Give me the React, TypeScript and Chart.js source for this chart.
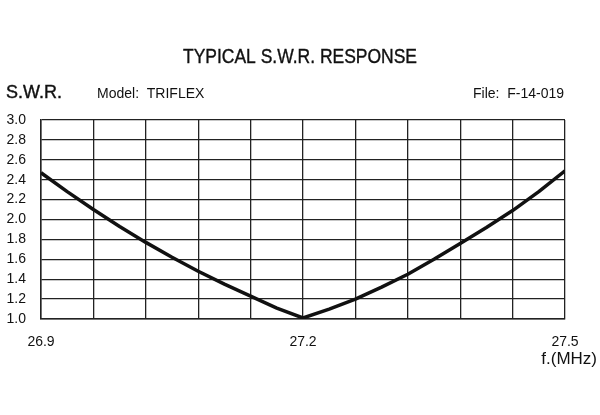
import React, { useEffect, useRef } from "react";
import { Chart, registerables } from "chart.js";

Chart.register(...registerables);

const frequencies = [
  26.9, 26.93, 26.96, 26.99, 27.02, 27.05, 27.08, 27.11, 27.14, 27.17, 27.2,
  27.23, 27.26, 27.29, 27.32, 27.35, 27.38, 27.41, 27.44, 27.47, 27.5,
];
const swrValues = [
  2.47, 2.28, 2.1, 1.93, 1.77, 1.62, 1.48, 1.35, 1.23, 1.11, 1.01,
  1.1, 1.2, 1.32, 1.45, 1.6, 1.76, 1.92, 2.09, 2.28, 2.49,
];
const xGridValues = [26.9, 26.96, 27.02, 27.08, 27.14, 27.2, 27.26, 27.32, 27.38, 27.44, 27.5];
const xTickLabels = ["26.9", "27.2", "27.5"];
const yTickValues = [1.0, 1.2, 1.4, 1.6, 1.8, 2.0, 2.2, 2.4, 2.6, 2.8, 3.0];

const titleText = "TYPICAL S.W.R. RESPONSE";
const yAxisTitle = "S.W.R.";
const modelText = "Model:  TRIFLEX";
const fileText = "File:  F-14-019";
const xAxisTitle = "f.(MHz)";

const FONT = "'Liberation Sans', Arial, sans-serif";

const textPlugin = {
  id: "headerText",
  afterDraw(chart: any) {
    const ctx = chart.ctx;
    ctx.save();
    ctx.fillStyle = "#111";
    ctx.strokeStyle = "#111";
    ctx.lineWidth = 0.4;
    ctx.textBaseline = "alphabetic";

    ctx.font = `21px ${FONT}`;
    const w = ctx.measureText(titleText).width;
    const target = 234;
    ctx.save();
    ctx.translate(300, 62.5);
    ctx.scale(target / w, 1);
    ctx.textAlign = "center";
    ctx.fillText(titleText, 0, 0);
    ctx.strokeText(titleText, 0, 0);
    ctx.restore();

    ctx.textAlign = "left";
    ctx.font = `18px ${FONT}`;
    ctx.fillText(yAxisTitle, 6, 98);
    ctx.strokeText(yAxisTitle, 6, 98);

    ctx.font = `14px ${FONT}`;
    ctx.fillText(modelText, 97, 98.3);

    ctx.textAlign = "right";
    ctx.fillText(fileText, 564, 98.3);

    ctx.font = `17px ${FONT}`;
    ctx.fillText(xAxisTitle, 597, 364);
    ctx.restore();
  },
};

export default function App() {
  const ref = useRef<HTMLCanvasElement | null>(null);

  useEffect(() => {
    if (!ref.current) return;
    const chart = new Chart(ref.current, {
      type: "line",
      data: {
        datasets: [
          {
            data: frequencies.map((f, i) => ({ x: f, y: swrValues[i] })),
            borderColor: "#111",
            borderWidth: 3.5,
            borderJoinStyle: "round",
            pointRadius: 0,
            tension: 0,
            fill: false,
          },
        ],
      },
      options: {
        animation: false,
        responsive: true,
        maintainAspectRatio: false,
        layout: { padding: { left: 0, right: 35, top: 120, bottom: 0 } },
        plugins: {
          legend: { display: false },
          tooltip: { enabled: false },
          title: { display: false },
        },
        scales: {
          x: {
            type: "linear",
            min: 26.9,
            max: 27.5,
            afterBuildTicks: (scale: any) => {
              scale.ticks = xGridValues.map((v) => ({ value: v }));
            },
            afterFit: (scale: any) => {
              scale.height = 96;
            },
            ticks: {
              autoSkip: false,
              maxRotation: 0,
              padding: 15,
              color: "#111",
              font: { family: FONT, size: 14 },
              callback: (value: any) => {
                const match = xTickLabels.find(
                  (l) => Math.abs(parseFloat(l) - Number(value)) < 0.001
                );
                return match ? match : "";
              },
            },
            grid: { color: "#222", lineWidth: 1.3, drawTicks: false },
            border: { color: "#222", width: 1.5 },
          },
          y: {
            type: "linear",
            min: 1.0,
            max: 3.0,
            afterBuildTicks: (scale: any) => {
              scale.ticks = yTickValues.map((v) => ({ value: v }));
            },
            afterFit: (scale: any) => {
              scale.width = 41;
            },
            ticks: {
              padding: 15,
              color: "#111",
              font: { family: FONT, size: 14 },
              callback: (value: any) => Number(value).toFixed(1),
            },
            grid: { color: "#222", lineWidth: 1.3, drawTicks: false },
            border: { color: "#222", width: 1.5 },
          },
        },
      },
      plugins: [textPlugin],
    } as any);
    return () => chart.destroy();
  }, []);

  return (
    <div style={{ position: "absolute", left: 0, top: 0, width: 600, height: 415, background: "#fff" }}>
      <canvas ref={ref} />
    </div>
  );
}
